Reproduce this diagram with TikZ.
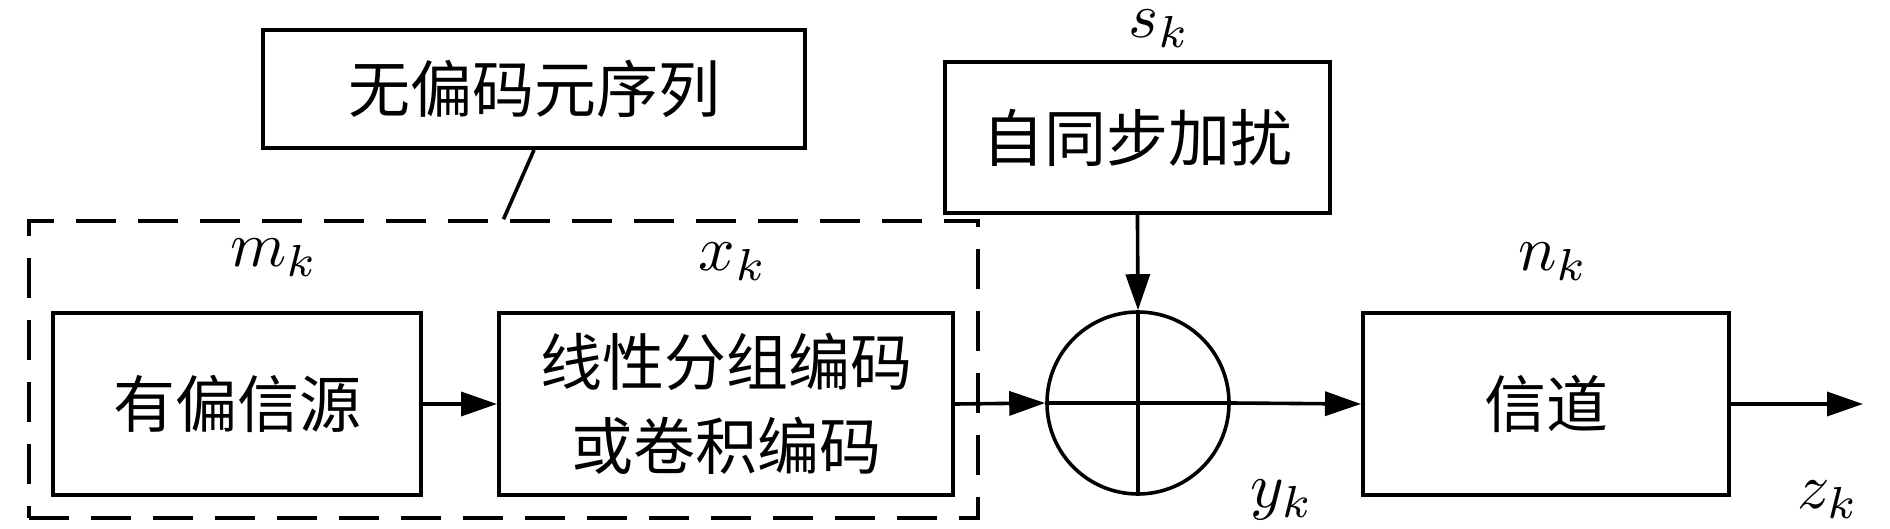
\documentclass[tikz,border=0pt]{standalone}
\usepackage{fontspec}
\usepackage{graphicx}
\newfontfamily\cjk{Noto Sans CJK SC}
\usetikzlibrary{arrows.meta}
\newcommand{\mlbl}[1]{\scalebox{3.2}{$#1$}}
\begin{document}
\begin{tikzpicture}[x=0.5pt,y=-0.5pt,
  blk/.style={draw, line width=2pt, inner sep=0pt, align=center,
    font=\cjk\fontsize{31}{42}\selectfont},
  lbl/.style={inner sep=0pt},
  conn/.style={line width=1.8pt, -{Triangle[length=18pt,width=12pt]}},
  plain/.style={line width=1.8pt}]
\useasboundingbox (0,0) rectangle (1890,529);
\node[blk, minimum width=271pt, minimum height=59pt] (unb) at (534,89) {无偏码元序列};
\node[draw, dash pattern=on 20pt off 11pt, line width=1.8pt, minimum width=474.5pt, minimum height=148.5pt, inner sep=0pt] (grp) at (503.5,369.5) {};
\node[blk, minimum width=184pt, minimum height=91pt] (src) at (237,404) {有偏信源};
\node[blk, minimum width=227pt, minimum height=91pt] (enc) at (726,404) {线性分组编码\\或卷积编码};
\node[blk, minimum width=192.5pt, minimum height=75.5pt] (scr) at (1137,137.5) {自同步加扰};
\node[draw, circle, line width=1.8pt, minimum size=91pt, inner sep=0pt] (xor) at (1138,403) {};
\node[blk, minimum width=183pt, minimum height=91pt] (chn) at (1546,404) {信道};
\coordinate (out) at (1863,404);
\draw[line width=1.6pt] (xor.north) -- (xor.south);
\draw[line width=1.6pt] (xor.west) -- (xor.east);
\draw[plain] (unb.south) -- (grp.north);
\draw[conn] (src) -- (enc);
\draw[conn] (enc.east) -- (xor.west);
\draw[conn] (scr) -- (xor.north);
\draw[conn] (xor.east) -- (chn.west);
\draw[conn] (chn.east) -- (out);
\node[lbl] (sk) at (1159,29) {\mlbl{s_k}};
\node[lbl] (mk) at (274,258) {\mlbl{m_k}};
\node[lbl] (xk) at (733,262) {\mlbl{x_k}};
\node[lbl] (nk) at (1553,262) {\mlbl{n_k}};
\node[lbl] (yk) at (1282,500) {\mlbl{y_k}};
\node[lbl] (zk) at (1828,500) {\mlbl{z_k}};
\end{tikzpicture}
\end{document}
